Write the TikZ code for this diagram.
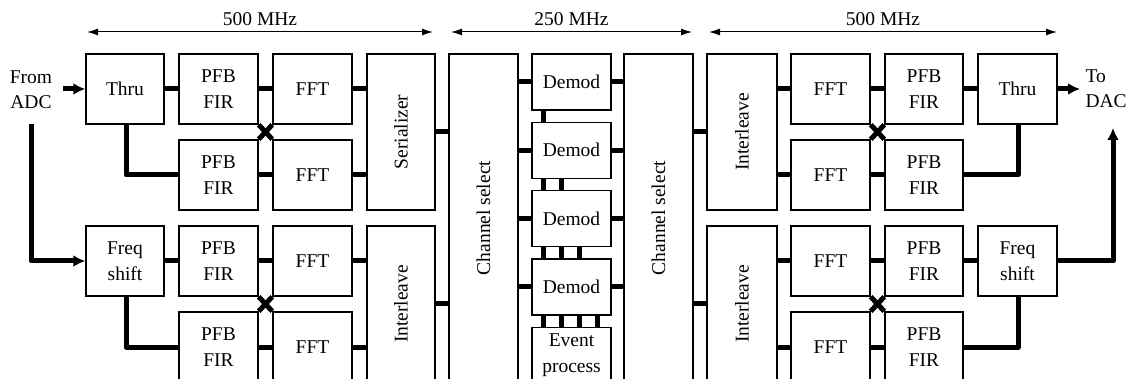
\documentclass[tikz,border=0pt]{standalone}
\usepackage{fontspec}
\setmainfont{Liberation Serif}
\usetikzlibrary{arrows.meta,calc}
\begin{document}
\begin{tikzpicture}[x=1pt,y=-1pt,
  txt/.style={font=\fontsize{19.5}{25.5}\selectfont},
  blk/.style={draw, line width=1.5pt, inner sep=0pt, align=center, txt,
              minimum width=79pt, minimum height=70pt},
  tall/.style={blk, minimum width=69pt, minimum height=156pt},
  dem/.style={blk, minimum width=79pt, minimum height=56pt},
  vtxt/.style={rotate=90, txt, inner sep=0pt},
  thk/.style={line width=5pt, line join=round},
  tarr/.style={thk, -{Latex[length=12pt,width=12pt]}},
  harr/.style={line width=1pt, {Latex[length=11pt,width=7pt]}-{Latex[length=11pt,width=7pt]}},
  lbl/.style={midway, above, inner sep=6pt, txt}]
\useasboundingbox (0,0) rectangle (1135,379);
\clip (0,0) rectangle (1135,379);

% frequency arrows
\coordinate (a1) at (87,32);  \coordinate (a2) at (433,32);
\coordinate (b1) at (451,32); \coordinate (b2) at (692,32);
\coordinate (c1) at (709,32); \coordinate (c2) at (1057,32);
\draw[harr] (a1) -- node[lbl] (la) {500 MHz} (a2);
\draw[harr] (b1) -- node[lbl] (lb) {250 MHz} (b2);
\draw[harr] (c1) -- node[lbl] (lc) {500 MHz} (c2);

% left half
\node[txt, align=center] (adc) at (31,89.5) {From\\ADC};
\node[blk, minimum width=78pt] (thru1) at (125,89) {Thru};
\node[blk] (pfb1) at (218.5,89) {PFB\\FIR};
\node[blk] (fft1) at (312.5,89) {FFT};
\node[blk] (pfb2) at (218.5,175) {PFB\\FIR};
\node[blk] (fft2) at (312.5,175) {FFT};
\node[tall, minimum width=68pt, label={[vtxt]center:Serializer}] (ser) at (401,132) {};
\node[blk, minimum width=78pt] (fs1) at (125,261) {Freq\\shift};
\node[blk] (pfb3) at (218.5,261) {PFB\\FIR};
\node[blk] (fft3) at (312.5,261) {FFT};
\node[blk] (pfb4) at (218.5,347) {PFB\\FIR};
\node[blk] (fft4) at (312.5,347) {FFT};
\node[tall, minimum width=68pt, label={[vtxt]center:Interleave}] (il1) at (401,304) {};

% middle
\node[tall, minimum height=328pt, label={[vtxt]center:Channel select}] (cs1) at (483.5,218) {};
\node[dem] (d1) at (571.5,82) {Demod};
\node[dem] (d2) at (571.5,150.3) {Demod};
\node[dem] (d3) at (571.5,218.7) {Demod};
\node[dem] (d4) at (571.5,287) {Demod};
\node[dem] (ev) at (571.5,355.3) {Event\\process};
\node[tall, minimum height=328pt, label={[vtxt]center:Channel select}] (cs2) at (658.5,218) {};

% right half
\node[tall, minimum width=70pt, label={[vtxt]center:Interleave}] (il2) at (742,132) {};
\node[tall, minimum width=70pt, label={[vtxt]center:Interleave}] (il3) at (742,304) {};
\node[blk] (fr1) at (830.5,89) {FFT};
\node[blk, minimum width=78pt] (pr1) at (924,89) {PFB\\FIR};
\node[blk] (thru2) at (1017.5,89) {Thru};
\node[blk] (fr2) at (830.5,175) {FFT};
\node[blk, minimum width=78pt] (pr2) at (924,175) {PFB\\FIR};
\node[blk] (fr3) at (830.5,261) {FFT};
\node[blk, minimum width=78pt] (pr3) at (924,261) {PFB\\FIR};
\node[blk] (fs2) at (1017.5,261) {Freq\\shift};
\node[blk] (fr4) at (830.5,347) {FFT};
\node[blk, minimum width=78pt] (pr4) at (924,347) {PFB\\FIR};
\node[txt, align=left, anchor=west] (dac) at (1082,88.5) {To\\DAC};

% input connectors
\coordinate (inA) at (63,89);
\coordinate (inB) at (31,124);
\draw[tarr] (inA) -- (thru1.west);
\draw[tarr] (inB) |- (fs1.west);

% left chains
\foreach \t/\p/\q/\f/\g/\s in {thru1/pfb1/pfb2/fft1/fft2/ser, fs1/pfb3/pfb4/fft3/fft4/il1}{
  \draw[thk] (\t.east) -- (\p.west);
  \draw[thk] (\p.east) -- (\f.west);
  \draw[thk] (\f.east) -- (\f.east -| \s.west);
  \draw[thk] ([xshift=1pt]\t.south) |- (\q.west);
  \draw[thk] (\q.east) -- (\g.west);
  \draw[thk] (\g.east) -- (\g.east -| \s.west);
  \draw[thk] (\p.south east) -- (\g.north west);
  \draw[thk] (\q.north east) -- (\f.south west);
}
\draw[thk] (ser.east) -- (ser.east -| cs1.west);
\draw[thk] (il1.east) -- (il1.east -| cs1.west);

% demod connections
\foreach \d in {d1,d2,d3,d4}{
  \draw[thk] (\d.west -| cs1.east) -- (\d.west);
  \draw[thk] (\d.east) -- (\d.east -| cs2.west);
}
\foreach \a/\b/\n in {d1/d2/1,d2/d3/2,d3/d4/3,d4/ev/4}{
  \foreach \k in {1,...,\n}{
    \draw[thk] ($(\a.south west)+({12+18*(\k-1)},0)$) -- ($(\b.north west)+({12+18*(\k-1)},0)$);
  }
}
\draw[thk] (il2.west -| cs2.east) -- (il2.west);
\draw[thk] (il3.west -| cs2.east) -- (il3.west);

% right chains
\foreach \i/\f/\g/\p/\q/\t in {il2/fr1/fr2/pr1/pr2/thru2, il3/fr3/fr4/pr3/pr4/fs2}{
  \draw[thk] (\f.west -| \i.east) -- (\f.west);
  \draw[thk] (\g.west -| \i.east) -- (\g.west);
  \draw[thk] (\f.east) -- (\p.west);
  \draw[thk] (\p.east) -- (\t.west);
  \draw[thk] (\g.east) -- (\q.west);
  \draw[thk] (\q.east) -| ([xshift=0.5pt]\t.south);
  \draw[thk] (\f.south east) -- (\q.north west);
  \draw[thk] (\g.north east) -- (\p.south west);
}

% output connectors
\coordinate (outA) at (1080,89);
\coordinate (outB) at (1113,128);
\draw[tarr] (thru2.east) -- (outA);
\draw[tarr] (fs2.east) -| (outB);
\end{tikzpicture}
\end{document}
